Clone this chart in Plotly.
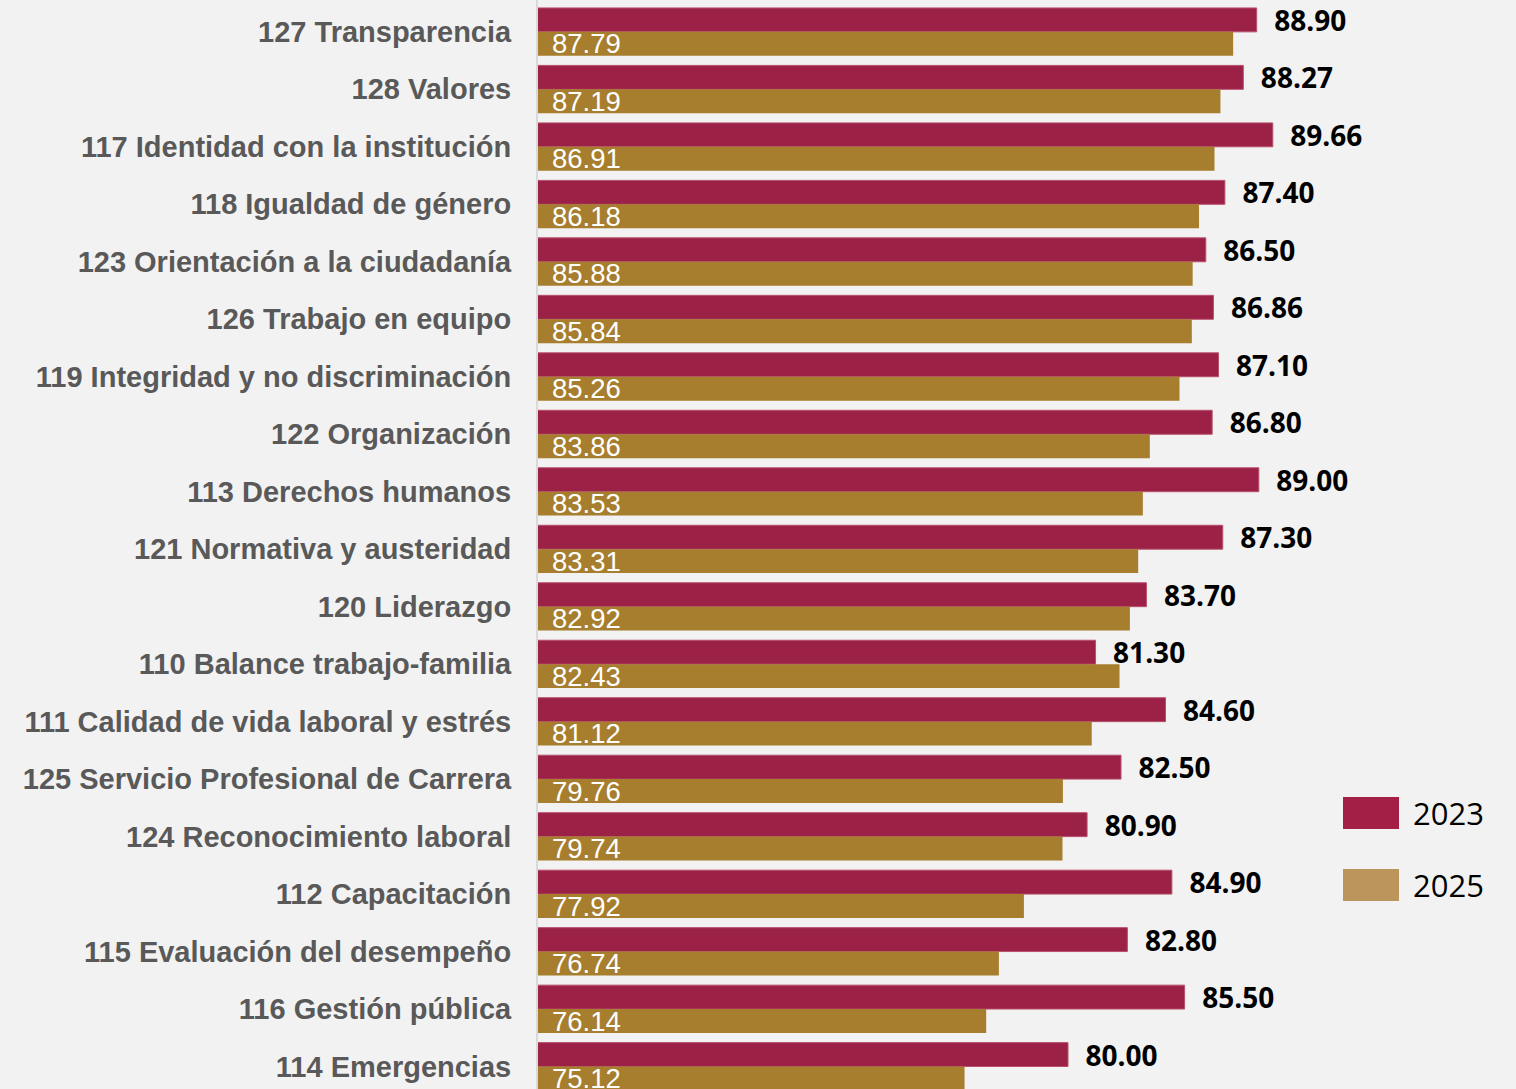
import plotly.graph_objects as go

categories = [
    "127 Transparencia", "128 Valores", "117 Identidad con la institución",
    "118 Igualdad de género", "123 Orientación a la ciudadanía", "126 Trabajo en equipo",
    "119 Integridad y no discriminación", "122 Organización", "113 Derechos humanos",
    "121 Normativa y austeridad", "120 Liderazgo", "110 Balance trabajo-familia",
    "111 Calidad de vida laboral y estrés", "125 Servicio Profesional de Carrera",
    "124 Reconocimiento laboral", "112 Capacitación", "115 Evaluación del desempeño",
    "116 Gestión pública", "114 Emergencias",
]
values_2023 = [88.90, 88.27, 89.66, 87.40, 86.50, 86.86, 87.10, 86.80, 89.00, 87.30,
               83.70, 81.30, 84.60, 82.50, 80.90, 84.90, 82.80, 85.50, 80.00]
values_2025 = [87.79, 87.19, 86.91, 86.18, 85.88, 85.84, 85.26, 83.86, 83.53, 83.31,
               82.92, 82.43, 81.12, 79.76, 79.74, 77.92, 76.74, 76.14, 75.12]
series_names = ["2023", "2025"]

RED = "#9B2146"
GOLD = "#A67E2D"
RED_LEG = "#A31F45"
GOLD_LEG = "#BC955C"

W, H = 1516, 1089
XMIN = 55
NB = "\u00a0"

fig = go.Figure()
fig.add_trace(go.Bar(
    y=categories, x=values_2023, orientation="h", name=series_names[0],
    marker=dict(color=RED, line=dict(color="#B8506C", width=1)),
    text=[NB * 2 + f"{v:.2f}" for v in values_2023],
    textposition="outside", constraintext="none", cliponaxis=False,
    textfont=dict(family="Open Sans", size=28, color="#000000", weight="bold"),
    showlegend=False,
))
fig.add_trace(go.Bar(
    y=categories, x=values_2025, orientation="h", name=series_names[1],
    marker=dict(color=GOLD, line=dict(width=0)),
    showlegend=False,
))

# white value labels at the start of the 2025 bars
for cat, v in zip(categories, values_2025):
    fig.add_annotation(x=XMIN, y=cat, xref="x", yref="y", text=f"{v:.2f}",
                       showarrow=False, xanchor="left", yanchor="middle",
                       xshift=12, yshift=-12,
                       font=dict(family="Liberation Sans", size=27.5, color="#FFFFFF"))

fig.update_layout(
    width=W, height=H,
    barmode="group", bargap=0.168, bargroupgap=0,
    paper_bgcolor="#F2F2F2", plot_bgcolor="#F2F2F2",
    margin=dict(l=538, r=0, t=0, b=0),
    xaxis=dict(range=[XMIN, XMIN + 978 / 21.2], showgrid=False, zeroline=False,
               showticklabels=False, showline=False, fixedrange=True),
    yaxis=dict(range=[18.391, -0.554], showgrid=False, zeroline=False,
               showline=True, linecolor="#D9D9D9", linewidth=2,
               ticks="", ticklabelstandoff=19,
               tickfont=dict(family="Liberation Sans", size=29, color="#595959", weight="bold")),
    font=dict(family="Liberation Sans"),
)

# manual legend (large swatches as in the reference)
legend_items = [(series_names[0], RED_LEG, 797), (series_names[1], GOLD_LEG, 869)]
for name, col, ytop in legend_items:
    fig.add_shape(type="rect", xref="paper", yref="paper",
                  x0=(1343 - 538) / 978, x1=(1399 - 538) / 978,
                  y0=1 - (ytop + 32) / H, y1=1 - ytop / H,
                  fillcolor=col, line=dict(width=0))
    fig.add_annotation(xref="paper", yref="paper", x=(1411 - 538) / 978,
                       y=1 - (ytop + 16) / H, text=name, showarrow=False,
                       xanchor="left", yanchor="middle",
                       font=dict(family="Open Sans", size=31, color="#000000"))

fig.write_html("out.html", config={"displayModeBar": False},
               post_script="document.body.style.margin='0';document.body.style.overflow='hidden';")
